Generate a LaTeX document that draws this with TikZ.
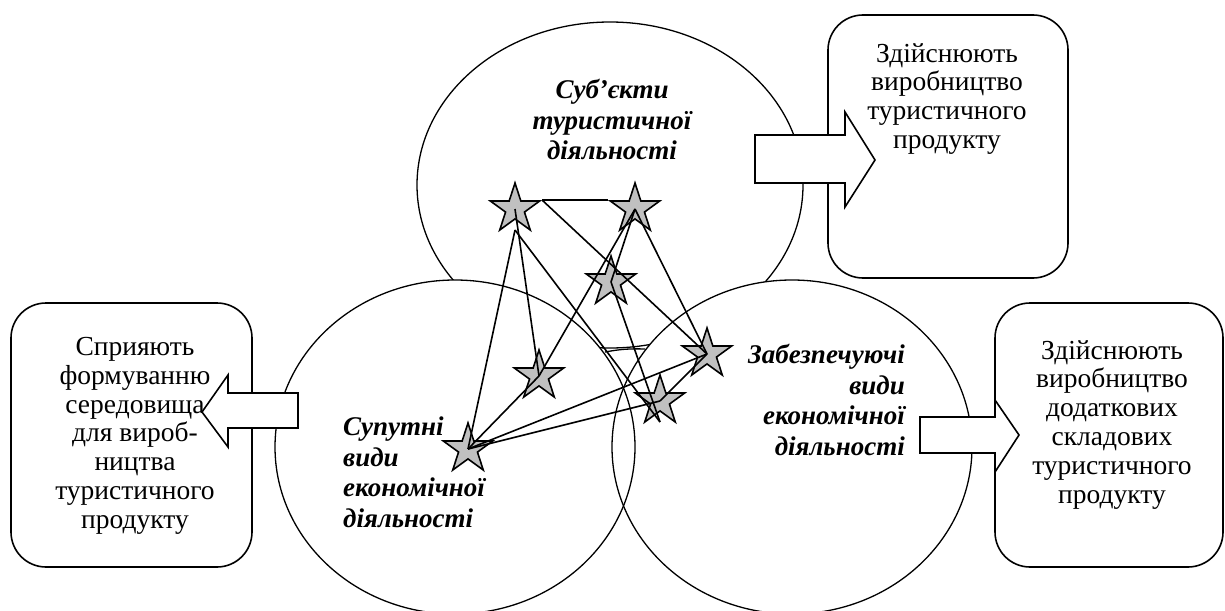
\documentclass[tikz,border=0pt]{standalone}
\usepackage{fontspec}
\setmainfont{Liberation Serif}
\usetikzlibrary{shapes.geometric}
\definecolor{stargray}{RGB}{192,192,192}

\begin{document}
\begin{tikzpicture}[x=1pt, y=-1pt,
    oval/.style={ellipse, draw, line width=1.3pt, inner sep=0, minimum width=360, minimum height=334},
    starnode/.style={star, star points=5, star point ratio=2.618, draw, line width=1.6pt, fill=stargray, inner sep=0, minimum size=52},
    link/.style={line width=1.6pt},
    textbox/.style={draw, line width=1.6pt, rounded corners=35, inner sep=0},
    boxtext/.style={align=center, font=\fontsize{27.5}{28.8}\selectfont, inner sep=0, anchor=north},
    ovaltext/.style={font=\fontsize{27}{30.5}\selectfont\bfseries\itshape, inner sep=0},
    blockarrow/.style={draw, fill=white, line width=1.6pt, line join=miter}]
  \useasboundingbox (0,0) rectangle (1225,610);
  % three fields
  \node[oval, minimum width=386, minimum height=326] (top) at (610,185) {};
  \fill[white] (455,447) ellipse [x radius=180, y radius=167];
  \fill[white] (792,447) ellipse [x radius=180, y radius=167];
  \node[oval] (left) at (455,447) {};
  \node[oval] (right) at (792,447) {};
  \node[ovaltext, align=center, anchor=north] (lbltop) at (612,79) {Суб’єкти\\туристичної\\діяльності};
  \node[ovaltext, align=left, anchor=north west] (lblleft) at (343,417) {Супутні\\види\\економічної\\діяльності};
  \node[ovaltext, align=right, anchor=north east] (lblright) at (905,344) {Забезпечуючі\\види\\економічної\\діяльності};
  % outcomes
  \node[textbox, minimum width=240, minimum height=263] (boxtr) at (948,146.5) {};
  \node[textbox, minimum width=241, minimum height=264] (boxl) at (131.5,435) {};
  \node[textbox, minimum width=228, minimum height=264] (boxbr) at (1109,435) {};
  \node[boxtext] (txttr) at (947,43) {Здійснюють\\виробництво\\туристичного\\продукту};
  \node[boxtext] (txtl) at (135,337) {Сприяють\\формуванню\\середовища\\для вироб-\\ництва\\туристичного\\продукту};
  \node[boxtext] (txtbr) at (1112,340) {Здійснюють\\виробництво\\додаткових\\складових\\туристичного\\продукту};
  % stars and links
  \node[starnode] (s1) at (515,209) {};
  \node[starnode] (s2) at (635,209) {};
  \node[starnode] (s3) at (611,282) {};
  \node[starnode] (s4) at (707,354) {};
  \node[starnode] (s5) at (539,376) {};
  \node[starnode] (s6) at (660,401) {};
  \node[starnode] (s7) at (468,449) {};
  \coordinate (s1foot) at ([yshift=-21pt]s1.center);
  \coordinate (s6foot) at ([yshift=-21pt]s6.center);
  \coordinate (arca) at (605,352);
  \coordinate (arcb) at (645,349);
  \foreach \a/\b in {s1.outer point 5/s2.outer point 2, s1.outer point 5/s4.center,
      s1.center/s5.center, s1foot/s7.center, s1foot/s6foot, s2.center/s5.center,
      s2.center/s3.center, s2.center/s4.center, s3.center/s6foot, s7.center/s5.center,
      s7.center/s4.center, s7.center/s6.center, s6.center/s4.center}
    \draw[link] (\a) -- (\b);
  \draw[link, line width=1.3pt] (arca) to[bend left=6] (arcb);
  % block arrows
  \draw[blockarrow] (755,135) -- (845,135) -- (845,112) -- (875,160) -- (845,207) -- (845,183) -- (755,183) -- cycle;
  \draw[blockarrow] (920,417) -- (995,417) -- (995,400) -- (1019,435) -- (995,472) -- (995,453) -- (920,453) -- cycle;
  \draw[blockarrow] (298,393) -- (228,393) -- (228,375) -- (202,412) -- (228,447) -- (228,428) -- (298,428) -- cycle;
\end{tikzpicture}
\end{document}
